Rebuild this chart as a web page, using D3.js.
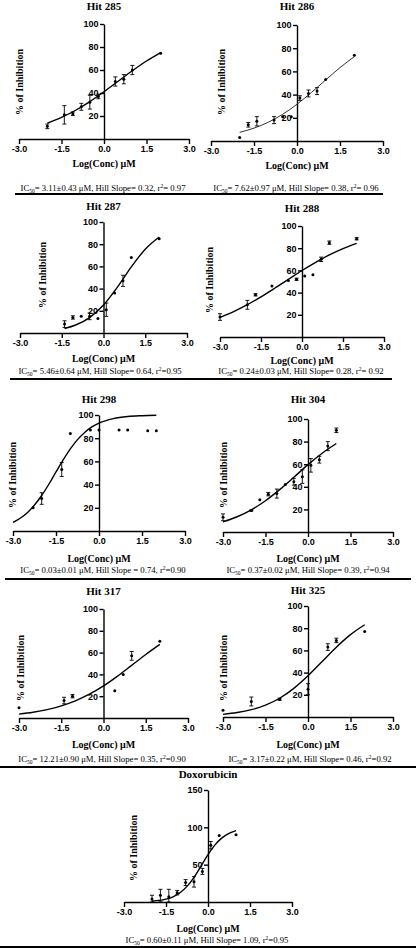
<!DOCTYPE html>
<html>
<head>
<meta charset="utf-8">
<script src="https://cdn.jsdelivr.net/npm/d3@7"></script>
<style>
html,body{margin:0;padding:0;background:#fff;}
svg{display:block;}
</style>
</head>
<body>
<svg id="chart" width="416" height="948"></svg>
<script>
// ---------- DATA ----------
const xTickValues = [-3.0, -1.5, 0.0, 1.5, 3.0];
const yTickValues = [20, 40, 60, 80, 100];
const doxoYTickValues = [50, 100, 150];

const panelTitles = ["Hit 285","Hit 286","Hit 287","Hit 288","Hit 298","Hit 304","Hit 317","Hit 325","Doxorubicin"];
const ic50Text = ["3.11±0.43","7.62±0.97","5.46±0.64","0.24±0.03","0.03±0.01","0.37±0.02","12.21±0.90","3.17±0.22","0.60±0.11"];
const hillText = ["Hill Slope= 0.32","Hill Slope= 0.38","Hill Slope= 0.64","Hill Slope= 0.28","Hill Slope = 0.74","Hill Slope= 0.39","Hill Slope= 0.35","Hill Slope= 0.46","Hill Slope= 1.09"];
const r2Text = ["= 0.97","= 0.96","=0.95","= 0.92","=0.90","=0.94","=0.90","=0.92","=0.95"];

// Hit 285
const hit285LogConc = [-2.0, -1.4, -1.1, -0.8, -0.5, -0.2, 0.4, 0.7, 1.0, 2.0];
const hit285Inhib   = [11, 21, 22, 28, 32, 37, 50, 52, 60, 74.5];
const hit285Err     = [2, 8, 1.5, 3, 6, 2, 4, 4, 4, 0];
const hit285FitX = [-2, -1.5, -1, -0.5, 0, 0.5, 1, 1.5, 2];
const hit285FitY = [13.8, 18.8, 25.0, 32.5, 41.1, 50.2, 59.3, 67.8, 75.2];
// Hit 286
const hit286LogConc = [-2.0, -1.7, -1.4, -0.8, -0.5, -0.2, 0.1, 0.4, 0.7, 1.0, 2.0];
const hit286Inhib   = [3, 14, 17, 18, 21, 21, 37, 41, 43, 53, 74];
const hit286Err     = [0, 2, 4, 3, 0, 0, 2, 3, 3, 0, 0];
const hit286FitX = [-2, -1.5, -1, -0.5, 0, 0.5, 1, 1.5, 2];
const hit286FitY = [7.5, 11.1, 16.2, 23.0, 31.7, 41.8, 52.6, 63.3, 72.7];
// Hit 287
const hit287LogConc = [-1.4, -1.1, -0.8, -0.5, -0.2, 0.1, 0.4, 0.7, 1.0, 2.0];
const hit287Inhib   = [8, 14, 15, 15, 13, 21, 36, 47, 68, 85];
const hit287Err     = [3, 1.5, 0, 3, 0, 6, 0, 5, 0, 0];
const hit287FitX = [-1.4, -1, -0.5, 0, 0.5, 1, 1.5, 2];
const hit287FitY = [4.1, 7.2, 13.9, 25.2, 41.3, 59.6, 75.5, 86.5];
// Hit 288
const hit288LogConc = [-3.0, -2.0, -1.7, -1.1, -0.5, -0.2, 0.1, 0.4, 0.7, 1.0, 2.0];
const hit288Inhib   = [18, 29, 38, 46, 51, 52, 55, 56, 70, 85, 88.5];
const hit288Err     = [3, 4, 1, 0, 0, 1, 0, 0, 2, 1.5, 1];
const hit288FitX = [-3, -2.5, -2, -1.5, -1, -0.5, 0, 0.5, 1, 1.5, 2];
const hit288FitY = [17.7, 22.9, 29.1, 36.2, 43.9, 51.9, 59.9, 67.3, 74.0, 79.7, 84.4];
// Hit 298
const hit298LogConc = [-2.3, -2.0, -1.3, -1.0, -0.3, 0.0, 0.7, 1.0, 1.7, 2.0];
const hit298Inhib   = [20, 28, 53, 84, 87, 87, 87, 87, 86.5, 86.5];
const hit298Err     = [0, 5, 6, 0, 0, 0, 0, 0, 0, 0];
const hit298FitX = [-3, -2.75, -2.5, -2.25, -2, -1.75, -1.5, -1.25, -1, -0.75, -0.5, -0.25, 0, 0.5, 1, 1.5, 2];
const hit298FitY = [7.4, 11.0, 15.8, 22.4, 30.6, 40.3, 50.9, 61.3, 70.8, 78.8, 85.0, 89.7, 93.0, 96.9, 98.7, 99.4, 99.75];
// Hit 304
const hit304LogConc = [-3.0, -2.0, -1.7, -1.4, -1.1, -0.8, -0.5, -0.2, 0.1, 0.4, 0.7, 1.0];
const hit304Inhib   = [13, 19, 28.5, 33.5, 34, 42, 44.5, 49, 59, 64, 76, 90];
const hit304Err     = [3, 0.5, 0, 1.5, 4, 0, 3, 6, 6, 3, 4, 2];
const hit304FitX = [-3, -2.5, -2, -1.5, -1, -0.5, 0, 0.5, 1];
const hit304FitY = [9.0, 13.5, 19.6, 27.7, 37.5, 48.4, 59.6, 69.7, 78.3];
// Hit 317
const hit317LogConc = [-3.0, -1.4, -1.1, 0.4, 0.7, 1.0, 2.0];
const hit317Inhib   = [9.5, 16, 20, 25, 40, 57, 70.5];
const hit317Err     = [0, 3, 1.5, 0, 0, 4, 0];
const hit317FitX = [-3, -2.5, -2, -1.5, -1, -0.5, 0, 0.5, 1, 1.5, 2];
const hit317FitY = [3.6, 5.3, 7.7, 11.1, 15.7, 21.8, 29.4, 38.4, 48.3, 58.3, 67.6];
// Hit 325
const hit325LogConc = [-3.0, -2.0, -1.0, 0.0, 0.7, 1.0, 2.0];
const hit325Inhib   = [6, 14, 16, 25, 63, 69, 77];
const hit325Err     = [0, 4, 1, 5, 3, 2, 0];
const hit325FitX = [-3, -2.5, -2, -1.5, -1, -0.5, 0, 0.5, 1, 1.5, 2];
const hit325FitY = [2.4, 4.0, 6.6, 10.7, 16.9, 25.8, 37.1, 50.0, 62.9, 74.2, 83.1];
// Doxorubicin
const doxoLogConc = [-2.0, -1.7, -1.4, -1.1, -0.8, -0.5, -0.2, 0.1, 0.4, 1.0];
const doxoInhib   = [4, 9, 7, 12.5, 26, 27, 41, 76, 89, 90];
const doxoErr     = [5, 8, 10, 3, 4, 7, 4, 5, 0, 0];
const doxoFitX = [-2, -1.75, -1.5, -1.25, -1, -0.75, -0.5, -0.25, 0, 0.25, 0.5, 0.75, 1];
const doxoFitY = [1.1, 2.1, 3.9, 7.0, 12.4, 20.9, 33.1, 48.1, 63.5, 76.5, 85.9, 91.9, 95.5];

// ---------- LAYOUT ----------
const layouts = [
  {xL:19,  xR:189, yBot:139, yTop:24,  yMax:100, titleY:10,  ylabX:19,  ylabY:82,  xTitleY:167, capX:103, capY:191},
  {xL:211, xR:383, yBot:141, yTop:25,  yMax:100, titleY:10,  ylabX:221, ylabY:82,  xTitleY:169, capX:296, capY:191, thin:true},
  {xL:20,  xR:187, yBot:333, yTop:222, yMax:100, titleY:210, ylabX:42,  ylabY:275, xTitleY:362, capX:100, capY:374},
  {xL:220, xR:384, yBot:337, yTop:226, yMax:100, titleY:212, ylabX:209, ylabY:280, xTitleY:364, capX:301, capY:374},
  {xL:13,  xR:185, yBot:531, yTop:415, yMax:100, titleY:403, ylabX:12,  ylabY:475, xTitleY:562, capX:103, capY:573},
  {xL:223, xR:393, yBot:532, yTop:419, yMax:100, titleY:403, ylabX:223, ylabY:475, xTitleY:562, capX:308, capY:573},
  {xL:19,  xR:188, yBot:718, yTop:609, yMax:100, titleY:595, ylabX:20,  ylabY:668, xTitleY:748, capX:102, capY:762},
  {xL:223, xR:393, yBot:717, yTop:606, yMax:100, titleY:594, ylabX:223, ylabY:668, xTitleY:748, capX:310, capY:762},
  {xL:124, xR:292, yBot:902, yTop:790, yMax:150, titleY:778, ylabX:133, ylabY:848, xTitleY:932, capX:207, capY:943}
];
const series = [
  [hit285LogConc, hit285Inhib, hit285Err, hit285FitX, hit285FitY],
  [hit286LogConc, hit286Inhib, hit286Err, hit286FitX, hit286FitY],
  [hit287LogConc, hit287Inhib, hit287Err, hit287FitX, hit287FitY],
  [hit288LogConc, hit288Inhib, hit288Err, hit288FitX, hit288FitY],
  [hit298LogConc, hit298Inhib, hit298Err, hit298FitX, hit298FitY],
  [hit304LogConc, hit304Inhib, hit304Err, hit304FitX, hit304FitY],
  [hit317LogConc, hit317Inhib, hit317Err, hit317FitX, hit317FitY],
  [hit325LogConc, hit325Inhib, hit325Err, hit325FitX, hit325FitY],
  [doxoLogConc, doxoInhib, doxoErr, doxoFitX, doxoFitY]
];
const separators = [
  {y:194, x1:15, x2:383},
  {y:379, x1:10, x2:392},
  {y:579, x1:5,  x2:411},
  {y:767, x1:0,  x2:416},
  {y:947, x1:0,  x2:416}
];

const SERIF = "'Liberation Serif','Times New Roman',serif";
const SANS = "'Liberation Sans',Arial,sans-serif";

const svg = d3.select("#chart");
svg.append("rect").attr("width",416).attr("height",948).attr("fill","#fff");

layouts.forEach((L, i) => {
  const [xs, ys, es, fx, fy] = series[i];
  const x = d3.scaleLinear().domain([-3, 3]).range([L.xL, L.xR]);
  const y = d3.scaleLinear().domain([0, L.yMax]).range([L.yBot, L.yTop]);
  const g = svg.append("g");

  // title
  g.append("text").attr("x", x(0)).attr("y", L.titleY)
    .attr("text-anchor","middle").attr("font-family",SERIF)
    .attr("font-weight","bold").attr("font-size",11).text(panelTitles[i]);

  // x axis
  const xAxis = d3.axisBottom(x).tickValues(xTickValues)
    .tickFormat(d => d.toFixed(1)).tickSize(5).tickSizeOuter(0).tickPadding(2);
  const gx = g.append("g").attr("transform", `translate(0,${y(0)})`).call(xAxis);
  // y axis
  const yAxis = d3.axisLeft(y).tickValues(i === 8 ? doxoYTickValues : yTickValues)
    .tickSize(4).tickSizeOuter(0).tickPadding(1.5);
  const gy = g.append("g").attr("transform", `translate(${x(0)},0)`).call(yAxis);
  [gx, gy].forEach(a => {
    a.selectAll("path,line").attr("stroke","#000").attr("stroke-width",1.4);
    a.selectAll("text").attr("font-family",SANS).attr("font-weight","bold")
      .attr("font-size",9).attr("fill","#000");
  });

  // axis titles
  g.append("text").attr("x", x(0)).attr("y", L.xTitleY)
    .attr("text-anchor","middle").attr("font-family",SERIF)
    .attr("font-weight","bold").attr("font-size",10).text("Log(Conc) μM");
  g.append("text").attr("transform", `translate(${L.ylabX},${L.ylabY}) rotate(-90)`)
    .attr("text-anchor","middle").attr("dominant-baseline","central")
    .attr("font-family",SERIF).attr("font-weight","bold").attr("font-size",10)
    .text("% of Inhibition");

  // fitted curve
  const fit = fx.map((v, k) => [v, fy[k]]);
  g.append("path").datum(fit)
    .attr("d", d3.line().x(d => x(d[0])).y(d => y(d[1])).curve(d3.curveMonotoneX))
    .attr("fill","none").attr("stroke", L.thin ? "#333" : "#000")
    .attr("stroke-width", L.thin ? 1 : 1.4);

  // error bars and points
  const pts = xs.map((v, k) => ({x: v, y: ys[k], e: es[k]}));
  const eb = g.append("g").attr("stroke","#000").attr("stroke-width",0.9);
  pts.filter(d => d.e > 0).forEach(d => {
    const lo = Math.max(0, d.y - d.e), hi = d.y + d.e;
    eb.append("line").attr("x1", x(d.x)).attr("x2", x(d.x)).attr("y1", y(lo)).attr("y2", y(hi));
    eb.append("line").attr("x1", x(d.x) - 2).attr("x2", x(d.x) + 2).attr("y1", y(hi)).attr("y2", y(hi));
    eb.append("line").attr("x1", x(d.x) - 2).attr("x2", x(d.x) + 2).attr("y1", y(lo)).attr("y2", y(lo));
  });
  g.selectAll("circle.pt").data(pts).enter().append("circle")
    .attr("cx", d => x(d.x)).attr("cy", d => y(d.y)).attr("r", 1.5).attr("fill","#000");

  // caption
  const cap = g.append("text").attr("x", L.capX).attr("y", L.capY)
    .attr("text-anchor","middle").attr("font-family",SERIF).attr("font-size",8.7).attr("fill","#000");
  cap.append("tspan").text("IC");
  cap.append("tspan").attr("font-size",5.5).attr("dy",1.5).text("50");
  cap.append("tspan").attr("dy",-1.5).text(`= ${ic50Text[i]} μM, ${hillText[i]}, r`);
  cap.append("tspan").attr("font-size",5.5).attr("dy",-3).text("2");
  cap.append("tspan").attr("dy",3).text(r2Text[i]);
});

separators.forEach(s => {
  svg.append("line").attr("x1", s.x1).attr("x2", s.x2).attr("y1", s.y).attr("y2", s.y)
    .attr("stroke","#000").attr("stroke-width",1.8);
});
</script>
</body>
</html>
